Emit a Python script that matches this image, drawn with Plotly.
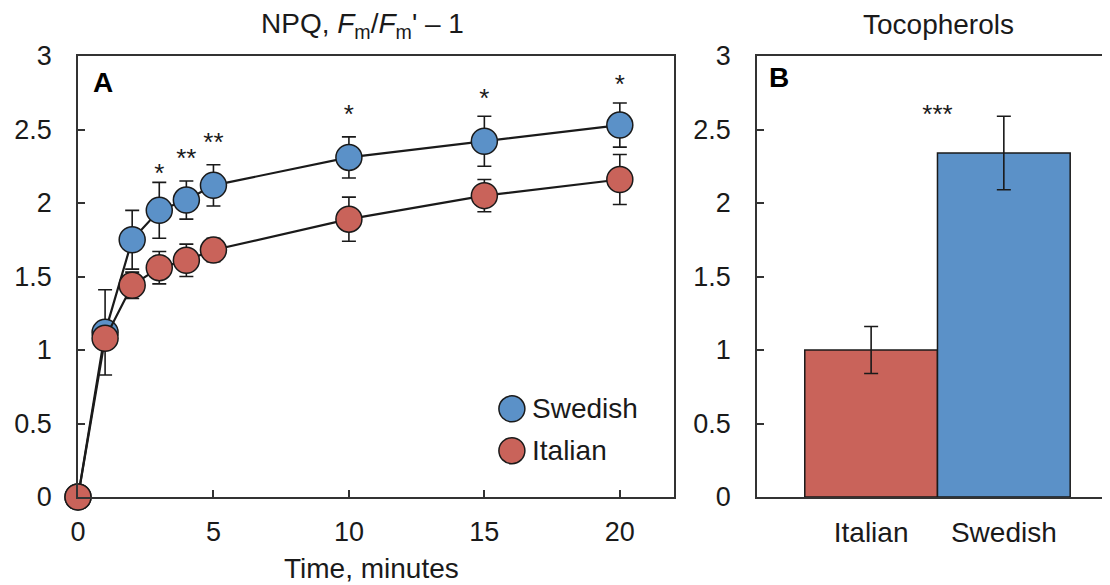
import plotly.graph_objects as go

# ---- Panel A data: NPQ time course ----
time_min = [0, 1, 2, 3, 4, 5, 10, 15, 20]
swedish_npq = [0, 1.12, 1.75, 1.95, 2.02, 2.12, 2.31, 2.42, 2.53]
swedish_err = [0, 0.29, 0.20, 0.19, 0.13, 0.14, 0.14, 0.17, 0.15]
italian_npq = [0, 1.08, 1.44, 1.56, 1.61, 1.68, 1.89, 2.05, 2.16]
italian_err = [0, 0.05, 0.09, 0.11, 0.11, 0.08, 0.15, 0.11, 0.17]
sig_time = [3, 4, 5, 10, 15, 20]
sig_y = [2.19, 2.29, 2.40, 2.59, 2.70, 2.79]
sig_labels = ["*", "**", "**", "*", "*", "*"]
x_ticks_a = [0, 5, 10, 15, 20]
y_ticks = [0, 0.5, 1, 1.5, 2, 2.5, 3]
y_ticktext = ["0", "0.5", "1", "1.5", "2", "2.5", "3"]

# ---- Panel B data: Tocopherols ----
toco_cats = ["Italian", "Swedish"]
toco_vals = [1.0, 2.34]
toco_err = [0.16, 0.25]
toco_sig_x = [0.5]
toco_sig_y = [2.59]
toco_sig_labels = ["***"]

BLUE = "#5B91C8"
RED = "#C9635A"
DARK = "#1a1a1a"
AXC = "#333333"
FONT = "Liberation Sans, Arial, sans-serif"
FS = 28
TFS = 27
SFS = 26

# page body has an 8px margin: figure is sized to fill the remaining window
OFF = 8
W, H = 1110 - OFF, 585 - OFF


def px(x):
    return (x - OFF) / W


def py(y):
    return 1 - (y - OFF) / H


fig = go.Figure()

for name, ys, errs, col in [("Swedish", swedish_npq, swedish_err, BLUE),
                            ("Italian", italian_npq, italian_err, RED)]:
    fig.add_trace(go.Scatter(
        x=time_min, y=ys, mode="lines+markers", name=name, showlegend=False,
        line=dict(color=DARK, width=2.2), cliponaxis=False,
        marker=dict(size=26, color=col, line=dict(color=DARK, width=1.5)),
        error_y=dict(type="data", array=errs, visible=True, color=DARK,
                     thickness=1.6, width=7),
        xaxis="x", yaxis="y"))

fig.add_trace(go.Scatter(
    x=sig_time, y=sig_y, mode="text", text=sig_labels, showlegend=False,
    textfont=dict(size=SFS, color=DARK, family=FONT), xaxis="x", yaxis="y"))

fig.add_trace(go.Bar(
    x=[0, 1], y=toco_vals, width=1, marker=dict(color=[RED, BLUE],
    line=dict(color=DARK, width=1.5)), showlegend=False,
    error_y=dict(type="data", array=toco_err, visible=True, color=DARK,
                 thickness=1.6, width=7),
    xaxis="x2", yaxis="y2"))

fig.add_trace(go.Scatter(
    x=toco_sig_x, y=toco_sig_y, mode="text", text=toco_sig_labels, showlegend=False,
    textfont=dict(size=SFS, color=DARK, family=FONT), xaxis="x2", yaxis="y2"))

axA = [px(78), px(674)]
axB = [px(757), 1.0]
ydom = [py(497), py(56)]

common_y = dict(range=[0, 3], tickvals=y_ticks, ticktext=y_ticktext, ticks="inside",
                ticklen=7, tickwidth=1.5, tickcolor=AXC, showline=True,
                linecolor=AXC, linewidth=1.5, showgrid=False, zeroline=False,
                tickfont=dict(size=TFS, color=DARK, family=FONT), domain=ydom,
                ticklabelstandoff=19, automargin=False)

fig.update_layout(
    width=W, height=H, margin=dict(l=0, r=0, t=0, b=0, autoexpand=False),
    plot_bgcolor="white", paper_bgcolor="white",
    font=dict(family=FONT, color=DARK),
    xaxis=dict(domain=axA, range=[0, 22], tickvals=x_ticks_a, ticks="inside",
               ticklen=7, tickwidth=1.5, tickcolor=AXC, showline=True,
               mirror=True, linecolor=AXC, linewidth=1.5, showgrid=False,
               zeroline=False, tickfont=dict(size=TFS, color=DARK, family=FONT),
               ticklabelstandoff=10, automargin=False, anchor="y"),
    yaxis=dict(anchor="x", mirror=True, **common_y),
    xaxis2=dict(domain=axB, range=[-0.86, 1.8], tickvals=[0, 1], ticktext=toco_cats,
                ticks="", showline=True, mirror=True, linecolor=AXC, linewidth=1.5,
                showgrid=False, zeroline=False,
                tickfont=dict(size=FS, color=DARK, family=FONT),
                ticklabelstandoff=10, automargin=False, anchor="y2"),
    yaxis2=dict(anchor="x2", **common_y),
    annotations=[
        dict(text="NPQ, <i>F</i><sub>m</sub>/<i>F</i><sub>m</sub>' – 1", xref="paper", yref="paper",
             x=px(362), y=py(26), xanchor="center", yanchor="middle", showarrow=False,
             font=dict(size=FS, color=DARK, family=FONT)),
        dict(text="Tocopherols", xref="paper", yref="paper",
             x=px(938), y=py(25), xanchor="center", yanchor="middle", showarrow=False,
             font=dict(size=FS, color=DARK, family=FONT)),
        dict(text="Time, minutes", xref="paper", yref="paper",
             x=px(371), y=py(568), xanchor="center", yanchor="middle", showarrow=False,
             font=dict(size=FS, color=DARK, family=FONT)),
        dict(text="<b>A</b>", xref="paper", yref="paper", x=px(91), y=py(82),
             xanchor="left", yanchor="middle", showarrow=False,
             font=dict(size=FS, color="black", family=FONT)),
        dict(text="<b>B</b>", xref="paper", yref="paper", x=px(767), y=py(78),
             xanchor="left", yanchor="middle", showarrow=False,
             font=dict(size=FS, color="black", family=FONT)),
        dict(text="Swedish", xref="x domain", yref="y domain", x=0.758, y=0.2,
             xanchor="left", yanchor="middle", showarrow=False,
             font=dict(size=FS, color=DARK, family=FONT)),
        dict(text="Italian", xref="x domain", yref="y domain", x=0.758, y=0.105,
             xanchor="left", yanchor="middle", showarrow=False,
             font=dict(size=FS, color=DARK, family=FONT)),
    ],
    shapes=[
        dict(type="circle", xref="x domain", yref="y domain", xsizemode="pixel",
             ysizemode="pixel", xanchor=0.728, yanchor=0.2, x0=-13, x1=13, y0=-13, y1=13,
             fillcolor=BLUE, line=dict(color=DARK, width=1.5)),
        dict(type="circle", xref="x domain", yref="y domain", xsizemode="pixel",
             ysizemode="pixel", xanchor=0.728, yanchor=0.105, x0=-13, x1=13, y0=-13, y1=13,
             fillcolor=RED, line=dict(color=DARK, width=1.5)),
    ],
)

fig.write_html("out.html")
